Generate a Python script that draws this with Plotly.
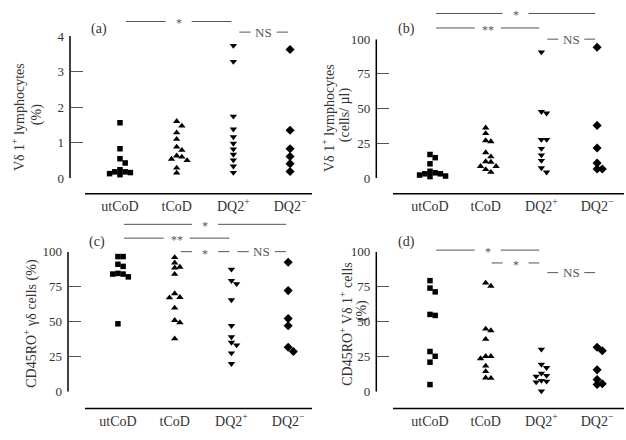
import plotly.graph_objects as go

W, H = 626, 440

# ---------------- data ----------------
categories = ["utCoD", "tCoD", "DQ2<sup>+</sup>", "DQ2<sup>−</sup>"]

a_utcod = [1.56, 0.83, 0.55, 0.43, 0.24, 0.18, 0.13, 0.10, 0.16, 0.18]
a_tcod = [1.60, 1.47, 1.28, 1.10, 0.88, 0.79, 0.63, 0.60, 0.54, 0.50, 0.29, 0.15]
a_dq2p = [3.73, 3.28, 1.74, 1.38, 1.16, 0.98, 0.82, 0.67, 0.51, 0.34, 0.16]
a_dq2n = [3.62, 1.35, 0.83, 0.61, 0.41, 0.19]

b_utcod = [17.1, 14.8, 10.4, 5.0, 3.9, 3.2, 3.2, 2.3, 1.6, 1.2]
b_tcod = [36.3, 32.2, 27.1, 26.4, 18.5, 15.5, 12.0, 11.6, 8.6, 8.6, 6.3, 4.4]
b_dq2p = [90.7, 47.9, 46.8, 27.8, 27.8, 21.3, 16.7, 12.7, 7.4, 4.4]
b_dq2n = [94.2, 38.0, 21.8, 10.9, 6.7, 6.7]

c_utcod = [96.5, 96.5, 91.0, 89.5, 84.5, 84.0, 84.0, 82.0, 48.5]
c_tcod = [95.9, 92.0, 89.0, 88.5, 83.9, 70.1, 67.4, 67.1, 59.8, 51.0, 49.4, 37.9]
c_dq2p = [87.4, 79.3, 77.0, 65.5, 47.1, 39.1, 35.2, 33.3, 27.6, 20.0]
c_dq2n = [92.4, 72.2, 52.2, 47.1, 31.7, 28.7]

d_utcod = [79.3, 74.0, 71.3, 55.2, 54.5, 28.7, 25.3, 21.1, 5.1]
d_tcod = [77.7, 75.4, 44.8, 43.7, 37.5, 25.3, 25.3, 23.7, 18.4, 14.5, 9.9, 9.7]
d_dq2p = [30.3, 19.5, 17.2, 13.1, 11.5, 11.0, 8.0, 7.4, 6.9, 0.5]
d_dq2n = [31.7, 29.2, 15.6, 8.7, 5.7, 5.1]

a_ticks = [0, 1, 2, 3, 4]
pct_ticks = [0, 25, 50, 75, 100]

# comparisons: (group i, group j, label)
a_sig = [(0, 2, "*"), (2, 3, "NS")]
b_sig = [(0, 3, "*"), (0, 2, "**"), (2, 3, "NS")]
c_sig = [(0, 3, "*"), (0, 2, "**"), (1, 2, "*"), (2, 3, "NS")]
d_sig = [(0, 2, "*"), (1, 2, "*"), (2, 3, "NS")]

a_title = ["Vδ 1<sup>+</sup> lymphocytes", "(%)"]
b_title = ["Vδ 1<sup>+</sup> lymphocytes", "(cells/ µl)"]
c_title = ["CD45RO<sup>+</sup> γδ cells (%)"]
d_title = ["CD45RO<sup>+</sup> Vδ 1<sup>+</sup> cells", "(%)"]

# ---------------- layout / style ----------------
FONT = "Liberation Serif, Times New Roman, serif"
TXT = "#333333"
SYMBOLS = ["square", "triangle-up", "triangle-down", "diamond"]
SIZES = [5.5, 6.5, 6.5, 7]

panels = [
    dict(tag="(a)", groups=[a_utcod, a_tcod, a_dq2p, a_dq2n], ticks=a_ticks,
         yr=(0, 4), sig=a_sig, title=a_title,
         axis_x=70, dom_x=(85, 312), dom_y=(30, 177.3), xline=193.3, xr=(-0.617, 3.387),
         title_xy=[(18, 114), (37, 112)], tag_xy=(99, 23), sig_y=[15, 26]),
    dict(tag="(b)", groups=[b_utcod, b_tcod, b_dq2p, b_dq2n], ticks=pct_ticks,
         yr=(0, 100), sig=b_sig, title=b_title,
         axis_x=376.3, dom_x=(393, 624), dom_y=(33.3, 177.3), xline=193.3, xr=(-0.664, 3.483),
         title_xy=[(328, 115), (345, 112)], tag_xy=(406, 22.7), sig_y=[6.7, 21.7, 33.3]),
    dict(tag="(c)", groups=[c_utcod, c_tcod, c_dq2p, c_dq2n], ticks=pct_ticks,
         yr=(0, 100), sig=c_sig, title=c_title,
         axis_x=68, dom_x=(85, 312), dom_y=(253.3, 398.3), xline=415.7, xr=(-0.58, 3.42),
         title_xy=[(31, 328)], tag_xy=(97, 243.3), sig_y=[225, 239.3, 253.3, 253.3]),
    dict(tag="(d)", groups=[d_utcod, d_tcod, d_dq2p, d_dq2n], ticks=pct_ticks,
         yr=(0, 100), sig=d_sig, title=d_title,
         axis_x=376.3, dom_x=(393, 624), dom_y=(253.3, 398.3), xline=415.7, xr=(-0.664, 3.483),
         title_xy=[(346, 328), (362, 315)], tag_xy=(406, 243.3), sig_y=[251.7, 265, 275]),
]


def px2paper_x(px):
    return px / W


def py2paper_y(py):
    return 1 - py / H


def swarm(vals, ppu_y, step, thr_px=5.0):
    """Greedy beeswarm: returns horizontal slot offsets (in units of step)."""
    order = sorted(range(len(vals)), key=lambda k: -vals[k])
    placed = []
    offs = [0.0] * len(vals)
    for k in order:
        ypx = vals[k] * ppu_y
        m = 0
        while True:
            slot = 0 if m == 0 else ((m + 1) // 2) * (1 if m % 2 else -1)
            if all(not (ps == slot and abs(ypx - py) < thr_px) for py, ps in placed):
                break
            m += 1
        placed.append((ypx, slot))
        offs[k] = slot * step
    return offs


fig = go.Figure()
layout = dict(width=W, height=H, autosize=False, showlegend=False,
              margin=dict(l=0, r=0, t=0, b=0, pad=0),
              paper_bgcolor="white", plot_bgcolor="white",
              font=dict(family=FONT, color=TXT, size=13))
shapes, annotations = [], []

for n, p in enumerate(panels, start=1):
    xa = "x" if n == 1 else f"x{n}"
    ya = "y" if n == 1 else f"y{n}"
    xkey = "xaxis" if n == 1 else f"xaxis{n}"
    ykey = "yaxis" if n == 1 else f"yaxis{n}"

    dom_w = p["dom_x"][1] - p["dom_x"][0]
    ppu_x = dom_w / (p["xr"][1] - p["xr"][0])
    dom_h = p["dom_y"][1] - p["dom_y"][0]
    ppu_y = dom_h / (p["yr"][1] - p["yr"][0])
    step = 5.2 / ppu_x

    for g, vals in enumerate(p["groups"]):
        offs = swarm(vals, ppu_y, step)
        fig.add_trace(go.Scatter(
            x=[g + o for o in offs], y=vals, mode="markers",
            xaxis=xa, yaxis=ya, cliponaxis=False, hoverinfo="skip",
            marker=dict(symbol=SYMBOLS[g], size=SIZES[g], color="black",
                        line=dict(width=0))))

    layout[xkey] = dict(
        domain=[px2paper_x(p["dom_x"][0]), px2paper_x(p["dom_x"][1])],
        range=list(p["xr"]), anchor="free", position=py2paper_y(p["xline"]),
        showline=False,
        tickmode="array", tickvals=list(range(len(categories))), ticktext=categories,
        ticks="", showgrid=False, zeroline=False, fixedrange=True,
        tickfont=dict(size=14, family=FONT, color=TXT), ticklabelstandoff=2)
    layout[ykey] = dict(
        domain=[py2paper_y(p["dom_y"][1]), py2paper_y(p["dom_y"][0])],
        range=list(p["yr"]), anchor="free", position=px2paper_x(p["axis_x"]),
        showline=False,
        tickmode="array", tickvals=p["ticks"],
        ticks="inside", ticklen=12, tickwidth=1, tickcolor="#555555",
        showgrid=False, zeroline=False, fixedrange=True,
        tickfont=dict(size=13, family=FONT, color=TXT), ticklabelstandoff=6)

    # axis lines
    shapes.append(dict(type="line", xref="paper", yref=ya,
                       x0=px2paper_x(p["axis_x"]), x1=px2paper_x(p["axis_x"]),
                       y0=p["yr"][0], y1=p["yr"][1],
                       line=dict(color="black", width=1.5)))
    shapes.append(dict(type="line", xref="paper", yref="paper",
                       x0=px2paper_x(p["dom_x"][0]), x1=px2paper_x(p["dom_x"][1]),
                       y0=py2paper_y(p["xline"]), y1=py2paper_y(p["xline"]),
                       line=dict(color="black", width=1.5)))

    # y-axis title (one annotation per line)
    for line_text, (tx, ty) in zip(p["title"], p["title_xy"]):
        annotations.append(dict(text=line_text, x=px2paper_x(tx), y=py2paper_y(ty),
                                xref="paper", yref="paper", showarrow=False, textangle=-90,
                                xanchor="center", yanchor="middle",
                                font=dict(size=14, family=FONT, color=TXT)))
    # panel tag
    gx, gy = p["tag_xy"]
    annotations.append(dict(text=p["tag"], x=px2paper_x(gx), y=py2paper_y(gy),
                            xref="paper", yref="paper", showarrow=False,
                            xanchor="center", yanchor="middle",
                            font=dict(size=14, family=FONT, color=TXT)))
    # significance brackets
    gap = 13.0 / ppu_x
    for (i, j, lab), sy in zip(p["sig"], p["sig_y"]):
        x0 = i + 6.0 / ppu_x
        x1 = j - 2.0 / ppu_x
        xm = (x0 + x1) / 2
        yp = py2paper_y(sy)
        for a0, a1 in ((x0, xm - gap), (xm + gap, x1)):
            shapes.append(dict(type="line", xref=xa, yref="paper", x0=a0, x1=a1,
                               y0=yp, y1=yp, line=dict(color="#555555", width=1)))
        fsz = 13 if lab == "NS" else 12
        annotations.append(dict(text=lab, x=xm, y=yp + (0 if lab == "NS" else -2.0 / H),
                                xref=xa, yref="paper", showarrow=False,
                                xanchor="center", yanchor="middle",
                                font=dict(size=fsz, family=FONT, color="#555555")))

layout["shapes"] = shapes
layout["annotations"] = annotations
fig.update_layout(**layout)
fig.write_html("out.html", config={"displayModeBar": False, "staticPlot": True},
               post_script="document.body.style.margin='0';document.body.style.padding='0';")
